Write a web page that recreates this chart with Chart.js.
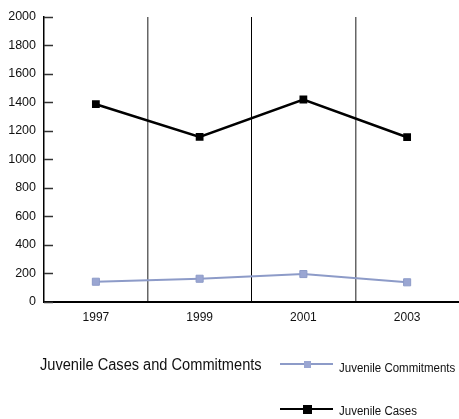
<!DOCTYPE html>
<html>
<head>
<meta charset="utf-8">
<script src="https://cdn.jsdelivr.net/npm/chart.js@4/dist/chart.umd.min.js"></script>
<style>
  html, body { margin: 0; padding: 0; background: #fff; width: 459px; height: 419px; overflow: hidden; }
  #wrap { position: absolute; left: 0; top: 0; width: 459px; height: 419px; }
  .lg { position: absolute; font-family: "Liberation Sans", Arial, sans-serif; color: #111; white-space: nowrap; }
  .title { left: 40px; top: 355px; font-size: 16px; line-height: 20px; transform: scaleX(0.913); transform-origin: 0 0; }
  .item { left: 280px; height: 16px; width: 200px; }
  .item .ln { position: absolute; left: 0; top: 7px; width: 53px; height: 2px; }
  .item .mk { position: absolute; }
  .item .tx { position: absolute; left: 59px; font-size: 12.5px; line-height: 16px; transform: scaleX(0.92); transform-origin: 0 0; }
</style>
</head>
<body>
<div id="wrap"><canvas id="c" width="459" height="419"></canvas></div>
<div class="lg title">Juvenile Cases and Commitments</div>
<div class="lg item" style="top:356px"><div class="ln" style="background:#8d9bc8"></div><div class="mk" style="background:#9aa6d2;width:7px;height:7px;left:24px;top:4.5px"></div><div class="tx" style="top:4px">Juvenile Commitments</div></div>
<div class="lg item" style="top:401px"><div class="ln" style="background:#000"></div><div class="mk" style="background:#000;width:9px;height:9px;left:23px;top:3.5px"></div><div class="tx" style="top:2px">Juvenile Cases</div></div>
<script>
const years = ["1997", "1999", "2001", "2003"];
const juvenileCommitments = [139, 160, 193, 135];
const juvenileCases = [1387, 1157, 1420, 1155];
const yTicks = [0, 200, 400, 600, 800, 1000, 1200, 1400, 1600, 1800, 2000];

const innerTicks = {
  id: 'innerTicks',
  afterDraw(chart) {
    const y = chart.scales.y;
    const ctx = chart.ctx;
    ctx.save();
    ctx.strokeStyle = '#333';
    ctx.lineWidth = 1.5;
    yTicks.forEach(v => {
      const py = Math.round(y.getPixelForValue(v)) + 0.5;
      ctx.beginPath();
      ctx.moveTo(y.right, py);
      ctx.lineTo(y.right + 9, py);
      ctx.stroke();
    });
    ctx.restore();
  }
};

new Chart(document.getElementById('c'), {
  type: 'line',
  data: {
    labels: years,
    datasets: [
      {
        label: 'Juvenile Commitments',
        data: juvenileCommitments,
        borderColor: '#8d9bc8',
        backgroundColor: '#9aa6d2',
        borderWidth: 2,
        pointStyle: 'rect',
        pointRadius: 5,
        pointBorderWidth: 1,
        pointBorderColor: '#8d9bc8',
        tension: 0
      },
      {
        label: 'Juvenile Cases',
        data: juvenileCases,
        borderColor: '#000',
        backgroundColor: '#000',
        borderWidth: 2.5,
        pointStyle: 'rect',
        pointRadius: 5.5,
        pointBorderWidth: 0,
        tension: 0
      }
    ]
  },
  options: {
    responsive: false,
    animation: false,
    layout: { autoPadding: false, padding: { top: 17, right: 0, left: 0, bottom: 0 } },
    plugins: { legend: { display: false }, tooltip: { enabled: false } },
    scales: {
      x: {
        offset: true,
        afterFit(s) { s.height = 117.5; s.paddingLeft = 0; s.paddingRight = 0; },
        grid: {
          offset: true,
          drawTicks: false,
          color: (ctx) => (ctx.type !== 'tick' || ctx.index === 0 || ctx.index >= 4) ? 'rgba(0,0,0,0)' : (ctx.index === 2 ? '#000' : '#666'),
          lineWidth: (ctx) => ctx.index === 2 ? 1 : 1.5
        },
        border: { display: true, color: '#000', width: 2 },
        ticks: { color: '#111', padding: 9, font: { family: '"Liberation Sans", Arial, sans-serif', size: 12 } }
      },
      y: {
        min: 0,
        max: 2000,
        afterFit(s) { s.width = 44; },
        afterBuildTicks(s) { s.ticks = yTicks.map(v => ({ value: v })); },
        grid: { display: false, drawTicks: false },
        border: { display: true, color: '#000', width: 1.5 },
        ticks: {
          color: '#111', padding: 8,
          font: { family: '"Liberation Sans", Arial, sans-serif', size: 12.5 },
          callback: (v) => String(v)
        }
      }
    }
  },
  plugins: [innerTicks]
});
</script>
</body>
</html>
